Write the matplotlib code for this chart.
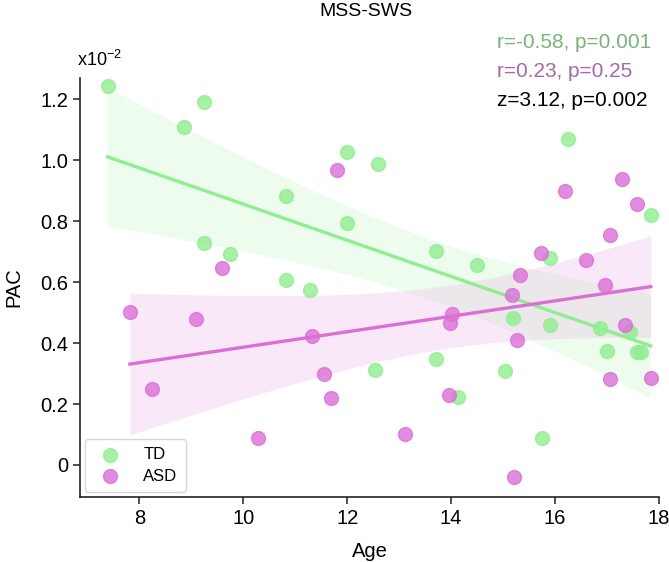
import numpy as np
import matplotlib
matplotlib.use('Agg')
import matplotlib.pyplot as plt
from matplotlib.ticker import FuncFormatter

plt.rcParams['font.family'] = ['Liberation Sans', 'DejaVu Sans']
plt.rcParams['mathtext.fontset'] = 'custom'
plt.rcParams['mathtext.rm'] = 'Liberation Sans'
plt.rcParams['mathtext.it'] = 'Liberation Sans:italic'

# PAC values are in units of 1e-2
td_age = [7.39, 8.86, 9.25, 11.99, 12.60, 10.82, 11.99, 9.24, 9.74, 10.82,
          11.28, 16.25, 17.84, 15.90, 13.71, 14.49, 12.53, 15.19, 15.90, 16.86,
          17.44, 13.70, 15.03, 17.00, 17.57, 17.66, 14.13, 15.74]
td_pac = [1.243, 1.109, 1.191, 1.027, 0.989, 0.882, 0.794, 0.729, 0.691, 0.607,
          0.574, 1.071, 0.822, 0.678, 0.702, 0.656, 0.311, 0.481, 0.459, 0.448,
          0.437, 0.348, 0.308, 0.375, 0.372, 0.372, 0.222, 0.087]

asd_age = [11.81, 9.60, 7.82, 9.10, 17.28, 16.19, 17.57, 17.05, 15.73, 16.60,
           15.33, 15.18, 16.96, 14.01, 11.33, 8.24, 11.55, 11.69, 10.29, 13.98,
           17.35, 15.27, 17.05, 17.84, 13.96, 13.11, 15.21]
asd_pac = [0.967, 0.645, 0.503, 0.479, 0.940, 0.898, 0.856, 0.756, 0.696, 0.674,
           0.623, 0.557, 0.590, 0.497, 0.423, 0.251, 0.298, 0.221, 0.087, 0.465,
           0.459, 0.410, 0.282, 0.284, 0.230, 0.101, -0.040]

groups = ['TD', 'ASD']
colors = ['lightgreen', 'orchid']
stat_lines = ['r=-0.58, p=0.001', 'r=0.23, p=0.25', 'z=3.12, p=0.002']
stat_colors = ['#78b478', '#a56aa5', 'black']
t_crit = {28: 2.056, 27: 2.060}


def fit_band(x, y):
    x = np.asarray(x)
    y = np.asarray(y)
    n = len(x)
    b, a = np.polyfit(x, y, 1)
    xs = np.linspace(x.min(), x.max(), 100)
    yhat = a + b * xs
    resid = y - (a + b * x)
    s = np.sqrt(np.sum(resid ** 2) / (n - 2))
    sxx = np.sum((x - x.mean()) ** 2)
    se = s * np.sqrt(1 / n + (xs - x.mean()) ** 2 / sxx)
    return xs, yhat, t_crit[n] * se


fig = plt.figure(figsize=(6.69, 5.62), dpi=100)
ax = fig.add_axes([0.1196, 0.1157, 0.8655, 0.7455])

for xx, yy, name, c in zip([td_age, asd_age], [td_pac, asd_pac], groups, colors):
    ax.scatter(xx, yy, s=100, color=c, alpha=0.8, edgecolor=c, linewidth=1, label=name, zorder=3)
    xs, yhat, ci = fit_band(xx, yy)
    ax.plot(xs, yhat, color=c, lw=2.4, zorder=2)
    ax.fill_between(xs, yhat - ci, yhat + ci, color=c, alpha=0.15, lw=0, zorder=1)

ax.set_xlim(6.86, 18.0)
ax.set_ylim(-0.105, 1.27)
ax.set_xticks([8, 10, 12, 14, 16, 18])
ax.set_yticks([0, 0.2, 0.4, 0.6, 0.8, 1.0, 1.2])
ax.yaxis.set_major_formatter(FuncFormatter(lambda v, p: '0' if abs(v) < 1e-9 else '%.1f' % v))
ax.tick_params(labelsize=14.5, length=5, width=1.1, color='#222222')
ax.spines['top'].set_visible(False)
ax.spines['right'].set_visible(False)
for sp in ['left', 'bottom']:
    ax.spines[sp].set_linewidth(1.2)
    ax.spines[sp].set_color('#222222')

ax.set_xlabel('Age', fontsize=14.5, labelpad=10)
ax.set_ylabel('PAC', fontsize=14.5, labelpad=12)

leg = ax.legend(loc='lower left', fontsize=12, borderaxespad=0.3, handletextpad=1.0,
                borderpad=0.5, labelspacing=0.4, framealpha=0.8)

fig.text(366 / 669, 1 - 12 / 562, 'MSS-SWS', ha='center', va='center', fontsize=14)
fig.text(99 / 669, 1 - 60 / 562, 'x10$^{-2}$', ha='center', va='center', fontsize=13)

for i, (txt, c) in enumerate(zip(stat_lines, stat_colors)):
    fig.text(497 / 669, 1 - (42 + 29.5 * i) / 562, txt, ha='left', va='center',
             fontsize=15, color=c)

fig.savefig('out.png', dpi=100)
